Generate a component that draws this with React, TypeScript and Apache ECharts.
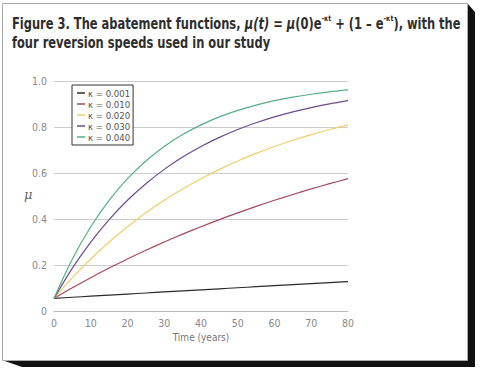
import React, { useEffect, useRef } from "react";
import * as echarts from "echarts";

const years = [0, 5, 10, 15, 20, 25, 30, 35, 40, 45, 50, 55, 60, 65, 70, 75, 80];
const k001 = [0.055, 0.0597, 0.0644, 0.0691, 0.0737, 0.0783, 0.0829, 0.0875, 0.0921, 0.0966, 0.1011, 0.1056, 0.11, 0.1145, 0.1189, 0.1233, 0.1277];
const k010 = [0.055, 0.1011, 0.1449, 0.1866, 0.2263, 0.264, 0.2999, 0.3341, 0.3665, 0.3974, 0.4268, 0.4548, 0.4814, 0.5067, 0.5307, 0.5536, 0.5754];
const k020 = [0.055, 0.1449, 0.2263, 0.2999, 0.3665, 0.4268, 0.4814, 0.5307, 0.5754, 0.6158, 0.6524, 0.6854, 0.7154, 0.7425, 0.767, 0.7891, 0.8092];
const k030 = [0.055, 0.1866, 0.2999, 0.3974, 0.4814, 0.5536, 0.6158, 0.6693, 0.7154, 0.755, 0.7891, 0.8185, 0.8438, 0.8656, 0.8843, 0.9004, 0.9143];
const k040 = [0.055, 0.2263, 0.3665, 0.4814, 0.5754, 0.6524, 0.7154, 0.767, 0.8092, 0.8438, 0.8721, 0.8953, 0.9143, 0.9298, 0.9425, 0.9529, 0.9615];
const seriesNames = ["0.001", "0.010", "0.020", "0.030", "0.040"];
const seriesValues = [k001, k010, k020, k030, k040];
const colors = ["#2a2a2a", "#a8485e", "#f0cf6a", "#6e4a8e", "#55b086"];

const NARROW = '"DejaVu Sans Condensed", "DejaVu Sans", sans-serif';

export default function App() {
  const ref = useRef<HTMLDivElement>(null);
  useEffect(() => {
    if (!ref.current) return;
    const chart = echarts.init(ref.current, undefined, { renderer: "svg" });
    const series = seriesNames.map((n, i) => ({
      name: "κ = " + n,
      type: "line",
      data: years.map((t, j) => [t, seriesValues[i][j]]),
      smooth: 0.3,
      showSymbol: false,
      lineStyle: { color: colors[i], width: 1.2 },
      itemStyle: { color: colors[i] },
      z: 3,
    }));
    chart.setOption({
      animation: false,
      backgroundColor: "transparent",
      graphic: [
        {
          type: "polygon",
          z: -100,
          silent: true,
          shape: { points: [[467, 3], [475, 12], [475, 367], [22, 367], [2, 360]] },
          style: { fill: "#111" },
        },
        {
          type: "rect",
          z: -99,
          silent: true,
          shape: { x: 2.5, y: 3.5, width: 465, height: 357 },
          style: { fill: "#fff", stroke: "#aaa", lineWidth: 1 },
        },
        {
          type: "text",
          x: 12,
          y: 14,
          scaleX: 0.85,
          scaleY: 1,
          silent: true,
          style: {
            text:
              "{b|Figure 3. The abatement functions, }{i|μ(t)}{b| = }{i|μ}{b|(0)e}{s|-κt}{b| + (1 – e}{s|-κt}{b|), with the}\n{b|four reversion speeds used in our study}",
            rich: {
              b: { fontFamily: NARROW, fontWeight: "bold", fontSize: 15, fill: "#2e2e2e", lineHeight: 19 },
              i: { fontFamily: NARROW, fontWeight: "bold", fontStyle: "italic", fontSize: 15, fill: "#2e2e2e", lineHeight: 19 },
              s: { fontFamily: NARROW, fontWeight: "bold", fontSize: 8, fill: "#2e2e2e", lineHeight: 12, verticalAlign: "top" },
            },
          },
        },
        {
          type: "text",
          left: 24,
          top: 188,
          silent: true,
          style: { text: "μ", font: 'italic 13px "DejaVu Serif", serif', fill: "#666" },
        },
      ],
      legend: {
        orient: "vertical",
        left: 72,
        top: 85,
        padding: [3, 3, 3, 5],
        itemGap: 1,
        itemWidth: 8,
        itemHeight: 1.5,
        icon: "rect",
        borderColor: "#333",
        borderWidth: 1,
        borderRadius: 0,
        backgroundColor: "#fff",
        textStyle: { fontFamily: NARROW, fontSize: 9.5, color: "#555", padding: [0, 0, 0, -2] },
        data: seriesNames.map((n) => "κ = " + n),
      },
      grid: { left: 54, right: 132, top: 81, bottom: 64 },
      xAxis: {
        type: "value",
        min: 0,
        max: 80,
        interval: 10,
        name: "Time (years)",
        nameLocation: "middle",
        nameGap: 19,
        nameTextStyle: { fontFamily: NARROW, fontSize: 10, color: "#777" },
        axisLine: { lineStyle: { color: "#bbb", width: 1 } },
        axisTick: { show: false },
        splitLine: { show: false },
        axisLabel: { fontFamily: NARROW, fontSize: 10.5, color: "#888", margin: 6 },
      },
      yAxis: {
        type: "value",
        min: 0,
        max: 1,
        interval: 0.2,
        axisLine: { show: false },
        axisTick: { show: false },
        splitLine: { lineStyle: { color: "#ccc", width: 1 } },
        axisLabel: {
          fontFamily: NARROW,
          fontSize: 10.5,
          color: "#888",
          margin: 7,
          formatter: (v: number) => (v === 0 ? "0" : v.toFixed(1)),
        },
      },
      series,
    });
    return () => chart.dispose();
  }, []);
  return (
    <div style={{ position: "absolute", left: 0, top: 0, width: 480, height: 375, background: "#fff" }}>
      <div ref={ref} style={{ width: 480, height: 375 }} />
    </div>
  );
}
